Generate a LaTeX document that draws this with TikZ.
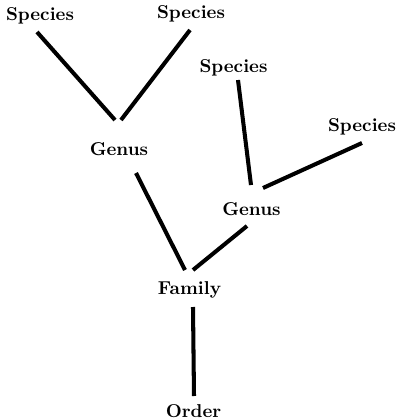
\documentclass[tikz,border=0pt]{standalone}
\usepackage{tikz}

\begin{document}
\begin{tikzpicture}[x=0.02cm,y=-0.02cm,taxon/.style={inner sep=0pt,font=\fontsize{10.6}{12}\selectfont\bfseries},branch/.style={line width=2.3pt}]
        \useasboundingbox (0,0) rectangle (396,420);
        \node [taxon] (s1) at (40,15.5) {Species};
        \node [taxon] (s2) at (191,13.5) {Species};
        \node [taxon] (s3) at (233.5,68) {Species};
        \node [taxon] (s4) at (362,126.5) {Species};
        \node [taxon] (g1) at (119,149) {Genus};
        \node [taxon] (g2) at (251.5,209.5) {Genus};
        \node [taxon] (fam) at (189.5,290) {Family};
        \node [taxon] (ord) at (193.5,411) {Order};
        \path[branch]
        ([shift={(-3,16.5)}]s1.center) edge ([shift={(-4,-29)}]g1.center)
        ([shift={(-1,16.5)}]s2.center) edge ([shift={(2,-29)}]g1.center)
        ([shift={(4.5,12)}]s3.center) edge ([shift={(-0.5,-24.5)}]g2.center)
        ([shift={(0,16.5)}]s4.center) edge ([shift={(11.5,-21.5)}]g2.center)
        ([shift={(17,24)}]g1.center) edge ([shift={(-4.5,-20)}]fam.center)
        ([shift={(-4.5,16.5)}]g2.center) edge ([shift={(3.5,-20)}]fam.center)
        ([shift={(3.5,17)}]fam.center) edge ([shift={(0.5,-15)}]ord.center);
    \end{tikzpicture}
\end{document}
